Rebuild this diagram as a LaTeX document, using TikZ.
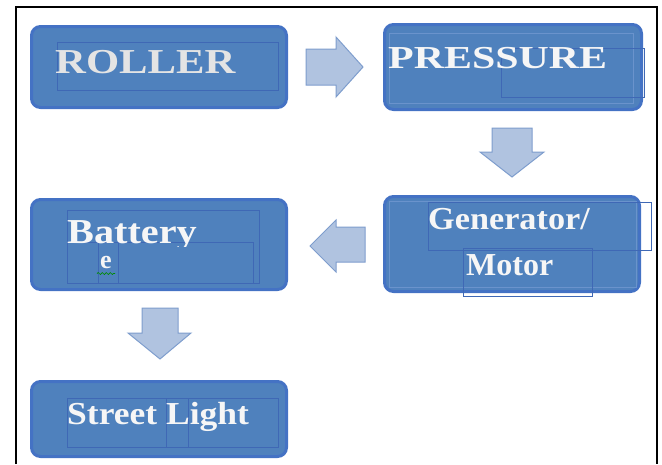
\documentclass[tikz,border=0pt]{standalone}
\usepackage{fontspec}
\setmainfont{Liberation Serif}
\usetikzlibrary{decorations.pathmorphing}
\definecolor{boxfill}{HTML}{4F81BD}
\definecolor{boxline}{HTML}{4472C4}
\definecolor{innerline}{HTML}{3F68B5}
\definecolor{softline}{HTML}{6A93CC}
\definecolor{arrfill}{HTML}{B0C3E0}
\definecolor{arrline}{HTML}{7E9DCD}
\definecolor{txt}{HTML}{F6F6F6}
\definecolor{txtgrey}{HTML}{E4E4E4}
\newcommand{\lbl}[3]{\fontsize{#1}{#1}\selectfont\bfseries\scalebox{#2}[1]{#3}}
\begin{document}
\begin{tikzpicture}[x=1pt,y=-1pt,
  blockbox/.style={draw=boxline, fill=boxfill, line width=3pt, rounded corners=9pt, inner sep=0pt},
  blockarrow/.style={draw=arrline, fill=arrfill, line width=1pt, line join=miter},
  textframe/.style={draw=innerline, line width=0.8pt},
  softframe/.style={draw=softline, line width=0.8pt},
  lbltext/.style={text=txt, inner sep=0pt, anchor=base west}]
\useasboundingbox (0,0) rectangle (662,464);
% page frame
\draw[line width=1.5pt] (16,464) -- (16,7) -- (657,7) -- (657,464);

% boxes
\node[blockbox, minimum width=255pt, minimum height=81pt] (roller) at (159,67) {};
\node[blockbox, minimum width=257pt, minimum height=85pt] (pressure) at (513,67) {};
\node[blockbox, minimum width=255pt, minimum height=95pt] (generator) at (512,244) {};
\node[blockbox, minimum width=255pt, minimum height=90pt] (battery) at (159,244.5) {};
\node[blockbox, minimum width=255pt, minimum height=75pt] (street) at (159,419) {};

% text box outlines
\draw[textframe] (57,42) rectangle (278,90);
\draw[softframe] (389,33) rectangle (633,103);
\draw[textframe] (501,48) rectangle (644,97);
\draw[softframe] (389,201) rectangle (636,287);
\draw[textframe] (428,202) rectangle (651,250);
\draw[textframe] (463,248) rectangle (592,296);
\draw[textframe] (67,210) rectangle (259,283);
\draw[textframe] (67,242) -- (253,242) -- (253,283);
\draw[textframe] (98,242) -- (98,283);
\draw[textframe] (118,242) -- (118,283);
\draw[textframe] (67,398) rectangle (278,447);
\draw[textframe] (166,398) -- (166,447);
\draw[textframe] (188,398) -- (188,447);

% labels
\node[lbltext, text=txtgrey] (tRoller) at (55,73) {\lbl{35}{1.22}{ROLLER}};
\node[lbltext] (tPressure) at (388,68) {\lbl{32}{1.31}{PRESSURE}};
\node[lbltext] (tGen) at (428,229) {\lbl{32}{1.07}{Generator/}};
\node[lbltext] (tMotor) at (466,275) {\lbl{32}{1.0}{Motor}};
\begin{scope}
  \clip (60,205) rectangle (215,246);
  \node[lbltext] (tBattery) at (67,243) {\lbl{35}{1.15}{Battery}};
\end{scope}
\node[lbltext] (tE) at (100,268) {\lbl{26}{1.0}{e}};
\draw[green!55!black, line width=0.7pt, decorate, decoration={snake, amplitude=1pt, segment length=4pt}] (97,273.5) -- (115,273.5);
\node[lbltext] (tStreet) at (67,424) {\lbl{32}{1.11}{Street Light}};

% block arrows
\draw[blockarrow] (306,49) -- (336,49) -- (336,37) -- (363,67) -- (336,97) -- (336,85) -- (306,85) -- cycle;
\draw[blockarrow] (492,128) -- (532,128) -- (532,152) -- (544,152) -- (512,177) -- (480,152) -- (492,152) -- cycle;
\draw[blockarrow] (365,227) -- (336,227) -- (336,220) -- (310,246) -- (336,272) -- (336,262) -- (365,262) -- cycle;
\draw[blockarrow] (142,308) -- (178,308) -- (178,333) -- (191,333) -- (160,359) -- (128,333) -- (142,333) -- cycle;
\end{tikzpicture}
\end{document}
